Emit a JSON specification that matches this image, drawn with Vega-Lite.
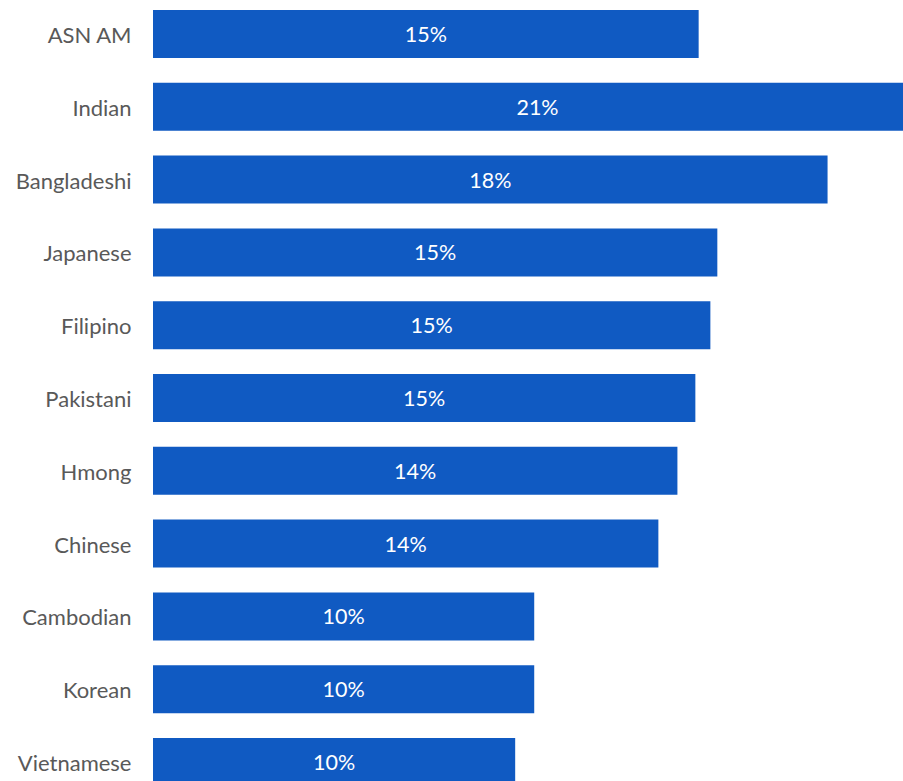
{
  "$schema": "https://vega.github.io/schema/vega-lite/v6.json",
  "width": 750,
  "height": 781,
  "autosize": {"type": "none"},
  "padding": {"left": 153, "top": 0, "right": 0, "bottom": 0},
  "background": "white",
  "config": {"view": {"stroke": null}, "font": "Lato"},
  "data": {
    "values": [
      {"group": "ASN AM", "value": 14.9, "label": "15%"},
      {"group": "Indian", "value": 21.0, "label": "21%"},
      {"group": "Bangladeshi", "value": 18.42, "label": "18%"},
      {"group": "Japanese", "value": 15.41, "label": "15%"},
      {"group": "Filipino", "value": 15.22, "label": "15%"},
      {"group": "Pakistani", "value": 14.81, "label": "15%"},
      {"group": "Hmong", "value": 14.32, "label": "14%"},
      {"group": "Chinese", "value": 13.8, "label": "14%"},
      {"group": "Cambodian", "value": 10.41, "label": "10%"},
      {"group": "Korean", "value": 10.41, "label": "10%"},
      {"group": "Vietnamese", "value": 9.89, "label": "10%"}
    ]
  },
  "encoding": {
    "y": {
      "field": "group",
      "type": "nominal",
      "sort": null,
      "scale": {"range": [10, 786], "paddingInner": 0.3407, "paddingOuter": 0},
      "axis": {
        "title": null,
        "domain": false,
        "ticks": false,
        "labelPadding": 22,
        "labelFontSize": 22,
        "labelOffset": 2,
        "labelColor": "#595959",
        "labelFont": "Lato"
      }
    }
  },
  "layer": [
    {
      "mark": {"type": "bar", "color": "#105AC2", "clip": true},
      "encoding": {
        "x": {
          "field": "value",
          "type": "quantitative",
          "scale": {"domain": [0, 20.48], "nice": false, "zero": true},
          "axis": null
        }
      }
    },
    {
      "mark": {"type": "text", "color": "white", "fontSize": 21.5, "font": "Lato", "align": "center", "baseline": "middle", "dy": 2},
      "encoding": {
        "x": {
          "field": "value",
          "type": "quantitative",
          "scale": {"domain": [0, 40.96], "nice": false, "zero": true},
          "axis": null
        },
        "text": {"field": "label"}
      }
    }
  ],
  "resolve": {"scale": {"x": "independent"}}
}
